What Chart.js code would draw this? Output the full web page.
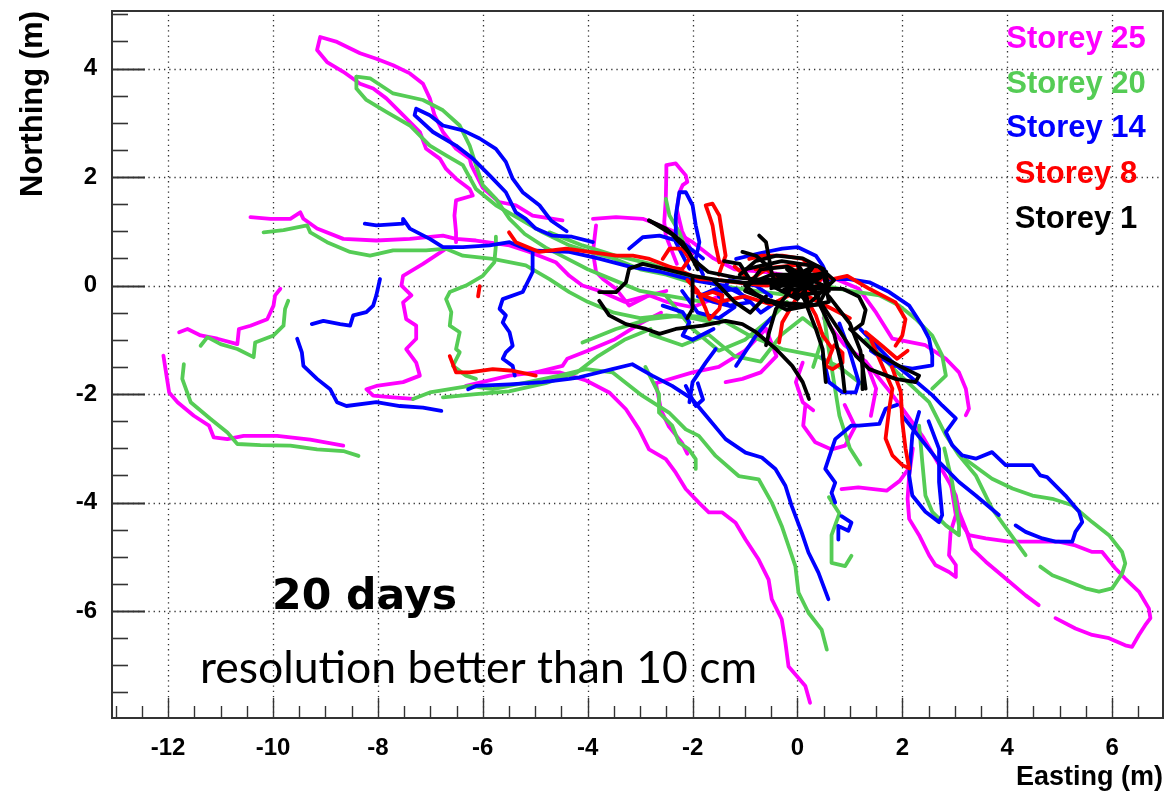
<!DOCTYPE html>
<html><head><meta charset="utf-8">
<script src="https://cdn.jsdelivr.net/npm/chart.js@4/dist/chart.umd.min.js"></script>
<style>html,body{margin:0;padding:0;background:#fff;}canvas{display:block;}</style>
</head><body>
<canvas id="c" width="1174" height="792"></canvas>
<script>
// ---------- axis / labels ----------
const xTickValues = [-12,-10,-8,-6,-4,-2,0,2,4,6];
const yTickValues = [-6,-4,-2,0,2,4];
const storeyNames = ['Storey 25','Storey 20','Storey 14','Storey 8','Storey 1'];
const storeyColors = ['#ff00ff','#55cc55','#0000ff','#ff0000','#000000'];
const annotationBold = '20 days';
const annotationText = 'resolution better than 10 cm';

// ---------- Storey 25 (magenta) tracks [easting, northing] ----------
const s25a = [[-4.48,1.20],[-5.05,1.29],[-5.37,1.48],[-5.69,1.54],[-6.00,1.80],[-6.22,2.22],[-6.25,2.34],[-6.51,2.52],[-6.76,2.83],[-6.92,3.14],[-7.01,3.45],[-7.14,3.72],[-7.39,3.91],[-7.71,4.06],[-8.03,4.18],[-8.34,4.28],[-8.78,4.49],[-9.10,4.58],[-9.16,4.34],[-8.97,4.12],[-8.66,3.94],[-8.34,3.72],[-8.09,3.63],[-7.84,3.45],[-7.52,3.14],[-7.20,2.83],[-7.08,2.52],[-6.82,2.34],[-6.70,2.15],[-6.51,1.97],[-6.25,1.78],[-6.19,1.66],[-6.51,1.57],[-6.54,1.29],[-6.51,0.98],[-6.51,0.80]];
const s25b = [[-10.43,1.26],[-10.05,1.23],[-9.67,1.23],[-9.48,1.35],[-9.42,1.23],[-9.16,1.05],[-8.66,0.86],[-8.03,0.83],[-7.39,0.86],[-6.76,0.92],[-6.51,0.86],[-6.13,0.83],[-5.49,0.74],[-5.11,0.62],[-4.61,0.43],[-4.35,0.18],[-4.10,0.00],[-3.77,-0.10],[-3.30,-0.30],[-2.90,-0.20],[-2.50,-0.10]];
const s25c = [[-6.70,0.68],[-7.14,0.40],[-7.52,0.18],[-7.55,0.00],[-7.36,-0.18],[-7.52,-0.31],[-7.46,-0.62],[-7.27,-0.74],[-7.27,-0.98],[-7.46,-1.17],[-7.27,-1.42],[-7.20,-1.66],[-7.52,-1.78],[-8.03,-1.85],[-8.22,-1.91],[-8.09,-2.03],[-7.71,-2.06],[-7.33,-2.09]];
const s25d = [[-6.32,-1.85],[-5.49,-1.66],[-4.99,-1.60],[-4.48,-1.48],[-4.39,-1.35],[-4.00,-1.20],[-3.50,-1.00],[-3.00,-0.70],[-2.60,-0.50]];
const s25e = [[-11.79,-0.86],[-11.63,-0.80],[-11.38,-0.92],[-11.06,-0.98],[-10.68,-1.08],[-10.65,-0.80],[-10.43,-0.74],[-10.11,-0.62],[-9.99,-0.37],[-9.96,-0.18],[-9.86,-0.06]];
const s25f = [[-12.09,-1.29],[-12.04,-1.60],[-11.98,-1.97],[-11.82,-2.15],[-11.51,-2.40],[-11.22,-2.58],[-11.13,-2.80],[-10.87,-2.83],[-10.56,-2.77],[-9.92,-2.77],[-9.29,-2.84],[-8.66,-2.95]];
const s25g = [[-2.30,0.40],[-2.51,0.92],[-2.54,1.17],[-2.51,1.60],[-2.50,2.09],[-2.50,2.22],[-2.32,2.25],[-2.13,2.03],[-2.10,1.91],[-2.19,1.85],[-2.25,1.72],[-2.30,1.40],[-2.20,1.00],[-2.00,0.60]];
const s25h = [[-3.90,1.23],[-3.46,1.26],[-2.95,1.23],[-2.63,1.11],[-2.31,0.98],[-2.00,0.80],[-1.60,0.50],[-1.20,0.30],[-0.60,0.25],[0.00,0.15]];
const s25i = [[-3.84,1.11],[-3.90,0.62],[-3.84,0.25],[-3.71,0.12],[-3.46,-0.06],[-3.21,-0.37],[-2.83,-0.18],[-2.50,-0.30],[-2.00,-0.40],[-1.50,-0.20]];
const s25j = [[-4.99,-1.60],[-4.54,-1.60],[-4.03,-1.75],[-3.59,-1.97],[-3.27,-2.28],[-3.02,-2.65],[-2.83,-3.02],[-2.51,-3.20],[-2.32,-3.45],[-2.13,-3.75],[-1.88,-4.00],[-1.69,-4.18],[-1.44,-4.18],[-1.18,-4.37],[-0.99,-4.68],[-0.74,-5.05],[-0.55,-5.42],[-0.49,-5.78],[-0.30,-6.15],[-0.23,-6.58],[-0.17,-7.02],[0.15,-7.38],[0.24,-7.69]];
const s25k = [[0.10,0.10],[0.73,0.12],[1.17,-0.06],[1.50,-0.50],[1.81,-0.98],[2.44,-1.10],[2.83,-1.35],[3.08,-1.60],[3.21,-1.90],[3.27,-2.27],[3.21,-2.39]];
const s25l = [[1.30,-1.40],[1.80,-2.00],[2.40,-2.80],[2.89,-3.62],[3.02,-3.87],[3.08,-4.17],[3.21,-4.48],[3.33,-4.85],[3.59,-5.09],[3.97,-5.40],[4.35,-5.71],[4.60,-5.89]];
const s25m = [[2.92,-3.62],[3.02,-4.23],[3.27,-4.60],[3.59,-4.66],[4.03,-4.72],[4.67,-4.72],[4.98,-4.72],[5.30,-4.79],[5.62,-4.91],[5.81,-4.91],[6.06,-5.21],[6.25,-5.40],[6.51,-5.64],[6.70,-5.95],[6.73,-6.13],[6.63,-6.26],[6.51,-6.44],[6.38,-6.66],[6.25,-6.63],[5.94,-6.50],[5.62,-6.44],[5.30,-6.32],[4.92,-6.13]];
const s25n = [[2.20,-3.00],[2.13,-3.50],[2.10,-3.93],[2.13,-4.30],[2.32,-4.60],[2.51,-4.97],[2.63,-5.15],[2.89,-5.28],[3.02,-5.37],[3.02,-5.15],[2.89,-4.97],[2.92,-4.54],[3.02,-4.23]];
const s25o = [[0.15,-2.22],[0.11,-2.58],[0.34,-2.89],[0.65,-3.02],[0.91,-2.95],[1.10,-2.60],[0.90,-2.20]];
const s25p = [[0.84,-3.75],[1.16,-3.72],[1.70,-3.78],[1.95,-3.60],[2.10,-3.40]];
const s25q = [[0.10,-1.42],[-0.03,-1.78],[0.10,-2.15],[0.30,-2.30]];
const s25r = [[-1.37,-1.78],[-1.05,-1.72],[-0.70,-1.60],[-0.40,-1.30],[-0.60,-0.80]];
const s25s = [[-2.70,-1.80],[-2.60,-2.30],[-2.45,-2.60],[-2.20,-2.90],[-2.10,-3.10]];
const s25t = [[-0.60,-0.80],[-1.00,-1.20],[-1.50,-1.50],[-2.00,-1.60],[-2.70,-1.80]];
const s25u = [[0.50,-0.60],[0.90,-1.10],[1.30,-1.40],[1.50,-1.90],[1.40,-2.40]];

// ---------- Storey 20 (green) ----------
const s20a = [[-8.41,3.85],[-8.15,3.82],[-7.71,3.54],[-7.14,3.42],[-6.76,3.23],[-6.44,2.95],[-6.25,2.58],[-6.13,2.22],[-6.00,1.85],[-5.75,1.60],[-5.49,1.23],[-5.20,0.95],[-4.80,0.70],[-4.40,0.50],[-4.00,0.30],[-3.50,0.10],[-3.00,-0.10],[-2.40,-0.20],[-1.80,-0.30]];
const s20b = [[-8.41,3.85],[-8.41,3.63],[-8.22,3.42],[-7.84,3.20],[-7.39,2.95],[-7.01,2.58],[-6.70,2.40],[-6.38,2.22],[-6.13,1.78],[-5.75,1.48],[-5.30,1.23],[-4.86,0.98],[-4.35,0.74],[-3.90,0.60],[-3.50,0.50],[-3.00,0.30],[-2.50,0.20],[-2.00,0.05]];
const s20c = [[-10.18,0.98],[-9.80,1.02],[-9.35,1.11],[-9.29,0.98],[-8.97,0.80],[-8.53,0.62],[-8.15,0.55],[-7.71,0.65],[-7.08,0.65],[-6.70,0.68],[-6.38,0.55],[-5.81,0.49],[-5.18,0.37],[-4.73,0.12],[-4.35,-0.12],[-4.00,-0.30],[-3.50,-0.50],[-3.00,-0.60],[-2.50,-0.55],[-2.00,-0.60],[-1.50,-0.70]];
const s20d = [[-5.75,0.90],[-5.75,0.74],[-5.78,0.43],[-6.00,0.18],[-6.32,0.00],[-6.63,-0.12],[-6.70,-0.25],[-6.60,-0.49],[-6.63,-0.74],[-6.44,-0.86],[-6.51,-1.17],[-6.44,-1.23],[-6.57,-1.48],[-6.32,-1.66],[-6.13,-1.72]];
const s20e = [[-7.33,-2.09],[-7.01,-1.97],[-6.63,-1.91],[-6.25,-1.85],[-5.81,-1.91],[-5.18,-1.79],[-4.54,-1.66],[-4.03,-1.54],[-3.53,-1.60],[-2.96,-2.03],[-2.45,-2.34],[-2.13,-2.65],[-1.88,-2.77],[-1.56,-3.14],[-1.12,-3.51],[-0.74,-3.57],[-0.49,-4.00],[-0.30,-4.43],[-0.17,-4.80],[-0.04,-5.17],[0.02,-5.66],[0.21,-6.03],[0.46,-6.34],[0.56,-6.71]];
const s20f = [[-6.76,-2.06],[-6.13,-2.00],[-5.50,-1.95],[-4.80,-1.80],[-4.20,-1.60],[-3.80,-1.30],[-3.30,-1.00],[-2.80,-0.80]];
const s20g = [[-11.38,-1.11],[-11.25,-0.95],[-11.00,-1.08],[-10.68,-1.17],[-10.37,-1.32],[-10.34,-1.05],[-9.99,-0.92],[-9.80,-0.74],[-9.77,-0.43],[-9.71,-0.28]];
const s20h = [[-11.70,-1.45],[-11.73,-1.72],[-11.57,-2.15],[-11.19,-2.46],[-10.87,-2.71],[-10.68,-2.92],[-10.24,-2.94],[-9.67,-2.95],[-9.16,-3.02],[-8.66,-3.05],[-8.37,-3.14]];
const s20i = [[-2.90,-1.50],[-2.64,-2.00],[-2.64,-2.34],[-2.39,-2.58],[-2.26,-2.89],[-2.07,-3.02],[-1.94,-3.20],[-1.94,-3.38]];
const s20j = [[-2.51,1.60],[-2.44,1.29],[-2.25,0.98],[-2.10,0.60],[-1.80,0.30]];
const s20k = [[0.50,0.00],[1.00,-0.10],[1.56,-0.18],[1.94,-0.37],[2.25,-0.61],[2.57,-0.92],[2.76,-1.29],[2.83,-1.66],[2.70,-1.78],[2.57,-1.90]];
const s20l = [[1.30,-1.00],[1.90,-1.60],[2.51,-2.15],[2.83,-2.76],[3.08,-3.13],[3.40,-3.50],[3.71,-4.11],[4.03,-4.54],[4.35,-4.97]];
const s20m = [[3.20,-3.20],[3.71,-3.56],[4.10,-3.74],[4.48,-3.87],[4.86,-3.93],[5.24,-4.05],[5.62,-4.36],[5.94,-4.60],[6.19,-4.91],[6.25,-5.12],[6.19,-5.31],[6.00,-5.58],[5.75,-5.64],[5.49,-5.58],[5.11,-5.43],[4.86,-5.34],[4.63,-5.18]];
const s20n = [[2.32,-2.58],[2.38,-3.25],[2.44,-3.87],[2.57,-4.17],[2.83,-4.42],[3.08,-4.60],[3.08,-4.42],[2.95,-3.62],[2.80,-3.00]];
const s20o = [[-4.73,0.98],[-4.10,0.74],[-3.46,0.55],[-2.80,0.40],[-2.20,0.20],[-1.50,0.00],[-0.80,-0.10],[0.00,-0.20]];
const s20p = [[-4.10,-1.05],[-3.46,-0.80],[-2.83,-0.62],[-2.19,-0.55],[-1.50,-0.60],[-0.92,-0.92],[-0.29,-1.17],[0.35,-1.29],[0.80,-1.50],[1.20,-1.80]];
const s20q = [[-2.50,-0.20],[-2.00,-0.80],[-1.50,-1.20],[-1.00,-1.00],[-0.50,-0.60],[-0.20,-0.30]];
const s20r = [[0.50,-0.50],[0.60,-1.20],[0.70,-1.80],[0.80,-2.40],[1.00,-3.00],[1.20,-3.30]];
const s20s = [[0.60,-3.90],[0.80,-4.20],[0.65,-4.60],[0.65,-5.11],[0.91,-5.17],[1.03,-4.98]];
const s20t = [[-2.80,-0.90],[-2.20,-1.10],[-1.70,-0.90],[-1.20,-1.30],[-0.70,-1.40],[-0.30,-0.90],[0.10,-0.60],[0.50,-0.90],[0.30,-1.50]];

// ---------- Storey 14 (blue) ----------
const s14a = [[-3.90,0.80],[-4.30,0.90],[-4.67,0.92],[-4.99,1.05],[-5.18,1.23],[-5.37,1.35],[-5.56,1.72],[-5.87,2.03],[-6.19,2.34],[-6.51,2.58],[-6.95,2.83],[-7.30,3.14],[-7.27,3.26],[-7.01,3.14],[-6.76,2.95],[-6.38,2.86],[-6.06,2.71],[-5.75,2.52],[-5.56,2.28],[-5.43,1.97],[-5.24,1.72],[-4.92,1.48],[-4.70,1.20],[-4.40,1.00]];
const s14b = [[-8.25,1.14],[-8.03,1.11],[-7.52,1.14],[-7.52,1.23],[-7.39,1.05],[-7.01,0.86],[-6.76,0.71],[-6.38,0.71],[-5.87,0.74],[-5.49,0.80],[-5.11,0.65],[-4.35,0.62],[-3.80,0.50],[-3.20,0.35],[-2.60,0.25],[-2.00,0.10],[-1.40,0.00]];
const s14c = [[-5.05,0.62],[-5.05,0.25],[-5.24,-0.12],[-5.62,-0.25],[-5.68,-0.43],[-5.56,-0.55],[-5.62,-0.68],[-5.49,-0.86],[-5.43,-1.11],[-5.56,-1.23],[-5.62,-1.35],[-5.43,-1.48],[-5.39,-1.66]];
const s14d = [[-6.28,-1.91],[-6.13,-1.85],[-5.49,-1.82],[-4.86,-1.78],[-4.35,-1.72],[-4.16,-1.69],[-3.53,-1.54],[-3.15,-1.45],[-2.77,-1.66],[-2.39,-1.85],[-2.01,-2.09],[-1.69,-2.46],[-1.37,-2.83],[-0.99,-3.08],[-0.68,-3.17],[-0.42,-3.38],[-0.23,-3.69],[-0.11,-4.06],[0.08,-4.55],[0.21,-4.92],[0.40,-5.29],[0.59,-5.78]];
const s14e = [[-7.96,0.12],[-8.03,-0.18],[-8.09,-0.37],[-8.22,-0.49],[-8.47,-0.55],[-8.53,-0.74],[-8.72,-0.71],[-9.04,-0.65],[-9.26,-0.71]];
const s14f = [[-9.54,-0.98],[-9.45,-1.23],[-9.42,-1.48],[-9.16,-1.72],[-8.91,-1.91],[-8.78,-2.15],[-8.60,-2.22],[-8.03,-2.15],[-7.58,-2.22],[-7.14,-2.25],[-6.79,-2.31]];
const s14g = [[-2.06,0.31],[-2.32,0.80],[-2.32,1.29],[-2.25,1.72],[-2.13,1.72],[-2.00,1.48],[-1.94,1.11],[-1.87,0.80],[-1.94,0.49],[-1.80,0.20]];
const s14h = [[-1.17,0.49],[-0.70,0.60],[-0.29,0.68],[0.00,0.71],[0.35,0.55],[0.48,0.37],[0.60,0.12],[0.98,0.12],[1.37,0.06],[1.75,-0.12],[2.13,-0.37],[2.38,-0.74],[2.51,-0.98],[2.57,-1.29],[2.57,-1.47],[2.19,-1.53],[1.81,-1.47],[1.40,-1.20]];
const s14i = [[1.20,-0.80],[1.80,-1.40],[2.30,-1.80],[2.57,-2.02],[2.76,-2.21],[3.02,-2.45],[2.83,-2.70],[2.95,-2.94],[3.14,-3.13],[3.40,-3.19],[3.71,-3.07],[3.97,-3.31],[4.48,-3.31],[4.63,-3.50],[4.76,-3.53],[5.11,-3.87],[5.37,-4.17],[5.43,-4.36],[5.30,-4.54],[5.24,-4.72],[4.92,-4.72],[4.67,-4.66],[4.35,-4.54],[4.16,-4.42]];
const s14j = [[2.00,-2.40],[2.70,-3.25],[3.08,-3.62],[3.40,-3.87],[3.84,-4.23]];
const s14k = [[2.32,-2.33],[2.19,-2.76],[2.13,-3.50],[2.19,-3.87],[2.44,-4.17],[2.70,-4.36],[2.76,-4.23],[2.70,-3.62],[2.70,-3.01],[2.50,-2.50]];
const s14l = [[0.72,-4.00],[0.65,-3.82],[0.72,-3.63],[0.53,-3.38],[0.72,-2.83],[1.03,-2.58],[1.17,-2.58],[1.56,-2.55],[1.68,-2.27],[1.90,-2.20]];
const s14m = [[0.84,-4.25],[1.03,-4.37],[0.97,-4.52],[0.78,-4.43],[0.78,-4.68]];
const s14n = [[0.48,-1.29],[0.60,-1.78],[0.86,-1.97],[1.11,-1.97],[1.17,-1.78],[0.98,-1.17],[0.80,-0.70]];
const s14o = [[-3.21,0.68],[-2.95,0.89],[-2.63,0.92],[-2.20,0.80],[-1.80,0.50]];
const s14p = [[-1.56,-0.12],[-1.17,-0.06],[-0.92,-0.31],[-1.30,-0.37],[-1.50,-0.20],[-1.30,0.10],[-0.80,0.00],[-0.50,-0.20]];
const s14q = [[-2.57,-0.37],[-2.19,-0.49],[-2.06,-0.68],[-2.19,-0.92],[-2.00,-1.00],[-1.60,-0.80]];
const s14r = [[-1.56,-1.17],[-1.75,-1.42],[-2.00,-1.78],[-2.06,-2.15]];
const s14s = [[-1.17,-1.48],[-0.79,-0.92],[-0.50,-0.60]];
const s14t = [[-2.13,-1.85],[-1.94,-2.22],[-1.80,-2.10],[-1.90,-1.80]];
const s14u = [[-2.20,-0.10],[-1.90,-0.50],[-1.50,-0.60],[-1.20,-0.40],[-1.60,-0.30],[-1.90,-0.20],[-1.40,0.00],[-1.00,-0.20],[-0.70,-0.50],[-0.40,-0.30]];

// ---------- Storey 8 (red) ----------
const s8a = [[-5.50,0.98],[-5.37,0.80],[-4.92,0.62],[-4.41,0.68],[-3.97,0.62],[-3.46,0.55],[-3.14,0.55],[-2.82,0.49],[-2.50,0.37],[-2.18,0.25],[-1.87,0.12],[-1.50,0.10],[-1.17,0.06],[-0.60,0.00],[-0.16,0.06],[0.20,0.00]];
const s8b = [[-1.50,0.20],[-1.37,0.55],[-1.43,0.92],[-1.49,1.29],[-1.62,1.51],[-1.75,1.48],[-1.68,1.29],[-1.62,1.11],[-1.56,0.74],[-1.49,0.43]];
const s8c = [[-2.57,0.49],[-2.44,0.68],[-2.19,0.68],[-2.06,0.49],[-2.20,0.30],[-2.50,0.35]];
const s8d = [[-1.81,-0.18],[-1.62,-0.12],[-1.43,-0.18],[-1.49,-0.43],[-1.68,-0.62],[-1.75,-0.43],[-1.90,-0.10],[-2.10,0.10]];
const s8e = [[0.22,0.31],[0.67,0.12],[0.95,0.18],[1.37,-0.06],[1.87,-0.31],[2.06,-0.62],[2.00,-0.92],[1.87,-1.11]];
const s8f = [[0.10,-0.12],[0.35,-0.55],[0.48,-0.92],[0.67,-1.17],[0.54,-1.48],[0.67,-1.54],[0.86,-1.42],[0.86,-1.24],[0.70,-1.10]];
const s8g = [[-0.03,-0.25],[-0.29,-0.68],[-0.35,-1.05]];
const s8h = [[1.40,-1.00],[1.81,-1.90],[1.75,-2.27],[1.68,-2.82],[1.81,-3.13],[2.00,-3.31],[2.13,-3.37],[2.06,-3.00],[2.00,-2.52],[1.97,-1.96],[1.80,-1.50]];
const s8i = [[-0.92,0.49],[-0.67,0.55],[-0.29,0.55],[0.10,0.49],[0.30,0.30]];
const s8j = [[-6.63,-1.30],[-6.51,-1.60],[-6.25,-1.60],[-5.81,-1.54],[-5.43,-1.57],[-4.99,-1.66]];
const s8k = [[-6.06,-0.01],[-6.09,-0.20]];
const s8l = [[-0.80,0.30],[-0.30,0.35],[0.20,0.40],[0.50,0.20],[0.30,-0.10],[-0.20,-0.10]];
const s8m = [[1.30,-0.86],[1.60,-1.10],[1.90,-1.35],[2.10,-1.20]];
const s8n = [[-2.00,-0.10],[-1.50,-0.30],[-1.00,-0.20],[-0.50,-0.35],[0.00,-0.10],[0.60,-0.40],[1.00,-0.60]];
const s8o = [[-1.20,0.35],[-0.90,0.10],[-0.60,0.30],[-0.30,0.10],[0.00,0.30]];

// ---------- Storey 1 (black) ----------
const s1a = [[-3.78,-0.28],[-3.59,-0.55],[-3.27,-0.71],[-2.89,-0.80],[-2.63,-0.89],[-2.32,-0.80],[-1.81,-0.74],[-1.37,-0.65],[-1.05,-0.71],[-0.79,-0.86],[-0.41,-1.17],[-0.10,-1.48],[0.10,-1.78],[0.22,-2.09]];
const s1b = [[-3.78,-0.12],[-3.46,-0.12],[-3.27,0.06],[-3.21,0.31],[-2.95,0.40],[-2.50,0.30],[-2.00,0.18],[-1.50,0.10],[-1.00,0.05],[-0.50,0.05],[0.00,0.00]];
const s1c = [[-2.83,1.20],[-2.51,1.05],[-2.19,0.80],[-2.00,0.49],[-1.70,0.25],[-1.20,0.15],[-0.60,0.10],[0.00,0.05]];
const s1d = [[-2.83,1.20],[-2.40,0.95],[-2.06,0.60],[-1.90,0.30]];
const s1e = [[-0.73,0.92],[-0.60,0.80],[-0.54,0.49],[-0.48,0.18],[-0.40,0.05]];
const s1f = [[0.35,-0.06],[0.86,-0.06],[1.17,-0.20],[1.30,-0.45],[1.24,-0.70],[1.10,-0.80]];
const s1g = [[0.35,-0.18],[0.86,-0.92],[1.11,-1.29],[1.37,-1.54],[1.87,-1.72],[2.25,-1.78],[2.32,-1.66],[1.94,-1.48],[1.49,-1.24],[1.00,-0.80]];
const s1h = [[0.10,-0.18],[0.35,-0.80],[0.48,-1.17],[0.54,-1.78]];
const s1i = [[-0.16,-0.12],[-0.41,-0.43],[-0.54,-0.86],[-0.60,-1.10]];
const s1j = [[1.24,-1.29],[1.24,-1.91]];
const s1k = [[-1.05,0.62],[-0.79,0.55],[-0.50,0.30]];
const s1l = [[-2.00,0.18],[-2.00,-0.43],[-2.10,-0.60]];
const s1m = [[0.40,-0.30],[0.70,-0.90],[0.85,-1.50],[0.90,-1.95]];
const s1n = [[0.60,-0.20],[1.00,-0.70],[1.20,-1.20],[1.30,-1.90]];
const s1o = [[-0.60,0.10],[0.30,0.20],[-0.30,-0.10],[0.50,0.00],[-0.20,0.30],[0.40,-0.20],[0.00,0.40],[0.20,-0.30],[-0.40,0.20],[0.60,-0.10],[-0.10,-0.20],[0.30,0.35],[-0.50,-0.05],[0.45,0.15],[0.00,-0.10],[0.25,0.30],[-0.25,0.05],[0.55,0.25]];
const s1p = [[-1.00,0.30],[-0.30,0.45],[0.40,0.35],[0.70,0.10],[0.20,-0.35],[-0.60,-0.30],[-1.00,0.00],[-0.50,0.20],[0.50,0.20],[0.60,-0.30],[-0.20,-0.45],[-0.80,-0.15]];
const s1q = [[-1.60,0.10],[-1.20,-0.30],[-0.90,-0.50],[-0.60,-0.20]];
const s1r = [[-1.40,0.45],[-1.10,0.40],[-0.90,0.10]];
const s1s = [[-1.10,0.20],[-0.80,0.45],[-0.40,0.55],[0.10,0.50],[0.50,0.30],[0.60,0.00],[0.40,-0.35],[-0.10,-0.40],[-0.60,-0.25],[-1.00,-0.10],[-0.70,0.30],[-0.20,0.35],[0.30,0.10],[0.00,-0.25],[-0.50,0.00]];

const storey25 = [s25a,s25b,s25c,s25d,s25e,s25f,s25g,s25h,s25i,s25j,s25k,s25l,s25m,s25n,s25o,s25p,s25q,s25r,s25s,s25t,s25u];
const storey20 = [s20a,s20b,s20c,s20d,s20e,s20f,s20g,s20h,s20i,s20j,s20k,s20l,s20m,s20n,s20o,s20p,s20q,s20r,s20s,s20t];
const storey14 = [s14a,s14b,s14c,s14d,s14e,s14f,s14g,s14h,s14i,s14j,s14k,s14l,s14m,s14n,s14o,s14p,s14q,s14r,s14s,s14t,s14u];
const storey8  = [s8a,s8b,s8c,s8d,s8e,s8f,s8g,s8h,s8i,s8j,s8k,s8l,s8m,s8n,s8o];
const storey1  = [s1a,s1b,s1c,s1d,s1e,s1f,s1g,s1h,s1i,s1j,s1k,s1l,s1m,s1n,s1o,s1p,s1q,s1r,s1s];

// ---------- build datasets ----------
const groups = [storey25, storey20, storey14, storey8, storey1];
const datasets = [];
groups.forEach((paths, gi) => {
  paths.forEach((p, pi) => {
    datasets.push({
      label: storeyNames[gi] + (pi ? ' #' + pi : ''),
      data: p.map(([x, y]) => ({x, y})),
      showLine: true,
      borderColor: storeyColors[gi],
      backgroundColor: storeyColors[gi],
      borderWidth: 3.8,
      pointRadius: 0,
      tension: 0,
      fill: false,
      order: 10 - gi * 2,
      borderJoinStyle: 'round',
      borderCapStyle: 'round'
    });
  });
});

const X_MIN = -13.07, X_MAX = 6.97, Y_MIN = -7.97, Y_MAX = 5.06;

const bgPlugin = {
  id: 'bg',
  beforeDraw(chart) {
    const ctx = chart.ctx; ctx.save(); ctx.fillStyle = '#fff';
    ctx.fillRect(0, 0, chart.width, chart.height); ctx.restore();
  }
};

const gridPlugin = {
  id: 'dotgrid',
  beforeDatasetsDraw(chart) {
    const {ctx, chartArea: a, scales: {x, y}} = chart;
    ctx.save();
    ctx.strokeStyle = '#333'; ctx.lineWidth = 1.3; ctx.setLineDash([1.3, 3.9]);
    xTickValues.forEach(v => { const px = Math.round(x.getPixelForValue(v)) + 0.5;
      ctx.beginPath(); ctx.moveTo(px, a.bottom); ctx.lineTo(px, a.top); ctx.stroke(); });
    yTickValues.forEach(v => { const py = Math.round(y.getPixelForValue(v)) + 0.5;
      ctx.beginPath(); ctx.moveTo(a.left, py); ctx.lineTo(a.right, py); ctx.stroke(); });
    ctx.restore();
  }
};

const framePlugin = {
  id: 'frame',
  afterDraw(chart) {
    const {ctx, chartArea: a, scales: {x, y}} = chart;
    ctx.save();
    ctx.strokeStyle = '#333'; ctx.setLineDash([]);
    for (let v = -7.5; v <= 5.0001; v += 0.5) {
      const major = Math.abs(v % 2) < 1e-6;
      const py = Math.round(y.getPixelForValue(v)) + 0.5;
      ctx.lineWidth = major ? 2 : 1.6;
      ctx.beginPath(); ctx.moveTo(a.left, py); ctx.lineTo(a.left + (major ? 33 : 16), py); ctx.stroke();
    }
    for (let v = -13; v <= 6.5001; v += 0.5) {
      const major = Math.abs(v % 2) < 1e-6;
      const px = Math.round(x.getPixelForValue(v)) + 0.5;
      ctx.lineWidth = 1.4;
      ctx.beginPath(); ctx.moveTo(px, a.bottom); ctx.lineTo(px, a.bottom - (major ? 20 : 12)); ctx.stroke();
    }
    ctx.lineWidth = 2;
    ctx.strokeRect(a.left, a.top, a.right - a.left, a.bottom - a.top);
    ctx.restore();
  }
};

function fitFont(ctx, text, weight, family, targetWidth) {
  ctx.font = weight + ' 100px ' + family;
  const w = ctx.measureText(text).width;
  return 100 * targetWidth / w;
}

const textPlugin = {
  id: 'texts',
  afterDraw(chart) {
    const ctx = chart.ctx;
    ctx.save();
    ctx.textBaseline = 'alphabetic';
    ctx.textAlign = 'center';
    ctx.font = 'bold 31px "Liberation Sans", Arial, sans-serif';
    const baselines = [48, 93, 137, 183, 228];
    storeyNames.forEach((n, i) => { ctx.fillStyle = storeyColors[i]; ctx.fillText(n, 1076, baselines[i]); });
    ctx.textAlign = 'left';
    ctx.fillStyle = '#000';
    const fb = fitFont(ctx, annotationBold, 'bold', '"DejaVu Sans", Verdana, sans-serif', 185);
    ctx.font = 'bold ' + fb.toFixed(1) + 'px "DejaVu Sans", Verdana, sans-serif';
    ctx.fillText(annotationBold, 272, 609);
    const fr = fitFont(ctx, annotationText, 'normal', 'Lato, "Open Sans", sans-serif', 557);
    ctx.font = 'normal ' + fr.toFixed(1) + 'px Lato, "Open Sans", sans-serif';
    ctx.fillText(annotationText, 200, 683);
    ctx.restore();
  }
};

new Chart(document.getElementById('c'), {
  type: 'scatter',
  data: { datasets },
  options: {
    responsive: false,
    devicePixelRatio: 1,
    animation: false,
    layout: { padding: { left: 0, top: 11, right: 11, bottom: 0 } },
    plugins: { legend: { display: false }, tooltip: { enabled: false } },
    scales: {
      x: {
        type: 'linear', min: X_MIN, max: X_MAX,
        afterBuildTicks: s => { s.ticks = xTickValues.map(v => ({value: v})); },
        afterFit: s => { s.height = 74; s.paddingLeft = 0; s.paddingRight = 0; },
        grid: { display: false, drawTicks: false },
        border: { display: false },
        ticks: { color: '#000', padding: 16, maxRotation: 0, autoSkip: false,
                 font: { family: '"Liberation Sans", Arial, sans-serif', weight: 'bold', size: 24 } },
        title: { display: true, text: 'Easting (m)', align: 'end', color: '#000',
                 font: { family: '"Liberation Sans", Arial, sans-serif', weight: 'bold', size: 27, lineHeight: 1 },
                 padding: { top: 0, bottom: 1 } }
      },
      y: {
        type: 'linear', min: Y_MIN, max: Y_MAX,
        afterBuildTicks: s => { s.ticks = yTickValues.map(v => ({value: v})); },
        afterFit: s => { s.width = 112; s.paddingTop = 0; s.paddingBottom = 0; },
        grid: { display: false, drawTicks: false },
        border: { display: false },
        ticks: { color: '#000', padding: 15, autoSkip: false,
                 font: { family: '"Liberation Sans", Arial, sans-serif', weight: 'bold', size: 24 } },
        title: { display: true, text: 'Northing (m)', align: 'end', color: '#000',
                 font: { family: '"Liberation Sans", Arial, sans-serif', weight: 'bold', size: 31, lineHeight: 1 },
                 padding: { top: 18, bottom: 0 } }
      }
    }
  },
  plugins: [bgPlugin, gridPlugin, framePlugin, textPlugin]
});
</script>
</body></html>
